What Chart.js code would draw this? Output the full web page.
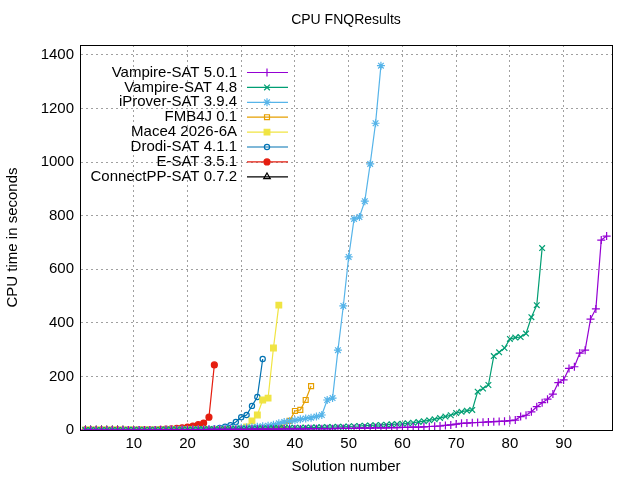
<!DOCTYPE html>
<html>
<head>
<meta charset="utf-8">
<script src="https://cdn.jsdelivr.net/npm/chart.js@4/dist/chart.umd.min.js"></script>
<style>
  html, body { margin: 0; padding: 0; background: #fff; }
  #wrap { width: 640px; height: 480px; }
</style>
</head>
<body>
<div id="wrap"><canvas id="c" width="640" height="480"></canvas></div>
<script>
'use strict';

// solver names as shown in the key
var solvers = ['Vampire-SAT 5.0.1', 'Vampire-SAT 4.8', 'iProver-SAT 3.9.4', 'FMB4J 0.1',
	'Mace4 2026-6A', 'Drodi-SAT 4.1.1', 'E-SAT 3.5.1', 'ConnectPP-SAT 0.7.2'];

// CPU times (s), sorted, one value per solved problem
var vampire501 = [0,0,0,0,0,0,0,0,0,0, 0,0,0,0,1,1,1,1,1,1, 1,1,1,2,2,2,2,2,2,2,
	2,3,3,3,3,3,3,4,4,4, 4,4,5,5,5,5,5,6,6,6, 6,7,7,7,8,8,8,9,9,10,
	10,11,11,12,13,14,15,17,19,22, 25,26,27,28,29,30,31,32,33,35,
	37,50,55,68,87,102,115,134,177,187, 230,236,287,298,414,452,709,724];
var vampire48 = [0,0,0,0,0,0,0,0,1,1, 1,1,1,1,1,2,2,2,2,2, 2,3,3,3,3,3,4,4,4,5,
	5,5,6,6,6,7,7,7,8,8, 8,9,9,10,10,11,11,12,12,13, 14,15,16,17,18,19,20,21,22,23,
	25,27,30,33,36,40,45,50,55,63, 68,72,75,143,155,168,276,290,306,340,
	345,347,360,421,466,679];
var iprover394 = [0,0,0,0,0,0,0,0,0,0, 0,0,0,0,0, 1,1,1,2,2,2,3,3,4,4,
	5,5,6,7,8,9,10,12,14,16, 20,25,30,33,36,40,43,46,50,
	56,112,119,298,463,646,788,795,854,993,1145,1360];
var fmb4j01 = [0,0,0,0,0,0,0,0,0,0, 0,0,0,0,0,0,0,0,0,1, 1,1,1,1,1,2,2,2,2,3,
	4,5,6,7,8,9,10,19,34,71,75,112,164];
var mace4 = [0,0,0,0,0,0,0,0,0,0, 0,0,0,0,0,0,0,0,0,1, 1,1,1,1,2,2,2,2,4,6,
	11,34,56,112,119,306,466];
var drodi411 = [0,0,0,0,0,0,0,0,0,0, 0,0,0,1,1,1,1,1,1,2, 2,2,3,3,5,8,12,18,30,48,
	56,90,123,265];
var esat351 = [0,0,0,0,0,0,0,0,0,0, 1,1,1,1,2,3,4,6,8,11, 15,20,26,48,243];
var connectpp072 = [0,0,0,0,0,0,0,0];

var xTicks = [10, 20, 30, 40, 50, 60, 70, 80, 90];
var yTicks = [0, 200, 400, 600, 800, 1000, 1200, 1400];

var series = [vampire501, vampire48, iprover394, fmb4j01, mace4, drodi411, esat351, connectpp072];
var colors = ['#9400d3', '#009e73', '#56b4e9', '#e69f00', '#f0e442', '#0072b2', '#e51e10', '#000000'];
var styles = [
	{ pointStyle: 'cross', radius: 4, fill: false },
	{ pointStyle: 'crossRot', radius: 4, fill: false },
	{ pointStyle: 'star', radius: 4, fill: false },
	{ pointStyle: 'rect', radius: 3.5, fill: false },
	{ pointStyle: 'rect', radius: 4, fill: true },
	{ pointStyle: 'circle', radius: 2.6, fill: false },
	{ pointStyle: 'circle', radius: 3, fill: true },
	{ pointStyle: 'triangle', radius: 3.8, fill: false }
];
var FONT = '"Liberation Sans", Arial, sans-serif';

var datasets = series.map(function(values, i){
	return {
		label: solvers[i],
		data: values.map(function(v, j){ return { x: j + 1, y: v }; }),
		borderColor: colors[i],
		backgroundColor: styles[i].fill ? colors[i] : 'rgba(0,0,0,0)',
		borderWidth: 1.2,
		showLine: true,
		pointStyle: styles[i].pointStyle,
		pointRadius: styles[i].radius,
		pointBorderWidth: 1.2,
		pointBackgroundColor: styles[i].fill ? colors[i] : 'rgba(0,0,0,0)',
		pointBorderColor: colors[i]
	};
});

// gnuplot-like key, title and frame
var keyPlugin = {
	id: 'key',
	afterDraw: function(chart){
		var ctx = chart.ctx, a = chart.chartArea, i, y;
		ctx.save();
		//solid frame all round
		ctx.strokeStyle = '#000';
		ctx.lineWidth = 1;
		ctx.setLineDash([]);
		ctx.strokeRect(Math.round(a.left) + 0.5, Math.round(a.top) + 0.5,
			Math.round(a.right - a.left), Math.round(a.bottom - a.top));

		ctx.font = '15px ' + FONT;
		ctx.textAlign = 'right';
		ctx.textBaseline = 'middle';
		for(i = 0; i < solvers.length; i++){
			y = 72.5 + i * 14.9;
			ctx.fillStyle = '#000';
			ctx.fillText(solvers[i], 237, y);
			ctx.strokeStyle = colors[i];
			ctx.lineWidth = 1.2;
			ctx.beginPath();
			ctx.moveTo(247, y);
			ctx.lineTo(288, y);
			ctx.stroke();
			ctx.fillStyle = styles[i].fill ? colors[i] : 'rgba(0,0,0,0)';
			Chart.helpers.drawPoint(ctx, {
				pointStyle: styles[i].pointStyle,
				radius: styles[i].radius,
				borderWidth: 1.2,
				rotation: 0
			}, 267, y);
		}
		ctx.font = '14px ' + FONT;
		ctx.textAlign = 'center';
		ctx.fillStyle = '#000';
		ctx.fillText('CPU FNQResults', 346, 20);
		ctx.restore();
	}
};

new Chart(document.getElementById('c').getContext('2d'), {
	type: 'scatter',
	data: { datasets: datasets },
	options: {
		responsive: false,
		animation: false,
		layout: { padding: { top: 45, right: 28, left: 0, bottom: 0 } },
		plugins: { legend: { display: false }, tooltip: { enabled: false } },
		scales: {
			x: {
				type: 'linear', min: 0, max: 99,
				afterBuildTicks: function(scale){
					scale.ticks = xTicks.map(function(v){ return { value: v }; });
				},
				afterFit: function(scale){ scale.height = 50; },
				ticks: { color: '#000', font: { size: 15, family: FONT }, maxRotation: 0, padding: 5,
					callback: function(v){ return String(v); } },
				grid: { color: '#a0a0a0', drawTicks: false },
				border: { color: '#000', width: 1, dash: [2, 3] },
				title: { display: true, text: 'Solution number', color: '#000',
					font: { size: 15, family: FONT }, padding: { top: 0 } }
			},
			y: {
				type: 'linear', min: 0, max: 1437,
				afterBuildTicks: function(scale){
					scale.ticks = yTicks.map(function(v){ return { value: v }; });
				},
				afterFit: function(scale){ scale.width = 80; },
				ticks: { color: '#000', font: { size: 15, family: FONT }, padding: 6,
					callback: function(v){ return String(v); } },
				grid: { color: '#a0a0a0', drawTicks: false },
				border: { color: '#000', width: 1, dash: [2, 3] },
				title: { display: true, text: 'CPU time in seconds', color: '#000',
					font: { size: 15, family: FONT }, padding: { bottom: 2 } }
			}
		}
	},
	plugins: [keyPlugin]
});
</script>
</body>
</html>
